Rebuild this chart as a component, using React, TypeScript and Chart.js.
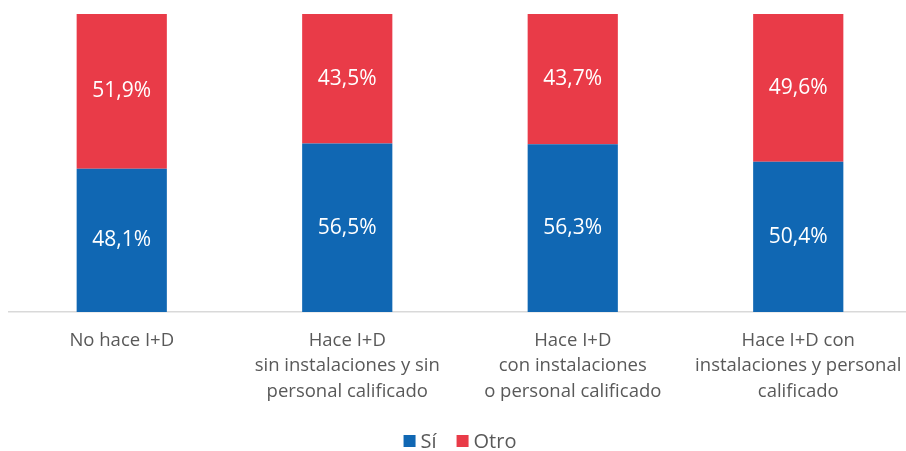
import React, { useEffect, useRef } from "react";
import { Chart, registerables } from "chart.js";

Chart.register(...registerables);

const categories: string[][] = [
  ["No hace I+D"],
  ["Hace I+D", "sin instalaciones y sin", "personal calificado"],
  ["Hace I+D", "con instalaciones", "o personal calificado"],
  ["Hace I+D con", "instalaciones y personal", "calificado"],
];
const siValues = [48.1, 56.5, 56.3, 50.4];
const otroValues = [51.9, 43.5, 43.7, 49.6];
const seriesNames = ["Sí", "Otro"];
const seriesColors = ["#1067b3", "#e93b48"];

const FONT = "'Open Sans', sans-serif";

const dataLabelPlugin = {
  id: "dataLabels",
  afterDatasetsDraw(chart: any) {
    const ctx = chart.ctx;
    ctx.save();
    ctx.fillStyle = "#ffffff";
    ctx.font = `21px ${FONT}`;
    ctx.textAlign = "center";
    ctx.textBaseline = "middle";
    chart.data.datasets.forEach((ds: any, di: number) => {
      const meta = chart.getDatasetMeta(di);
      meta.data.forEach((el: any, i: number) => {
        const v = ds.data[i] as number;
        const y = (el.y + el.base) / 2;
        ctx.fillText(v.toFixed(1).replace(".", ",") + "%", el.x, y);
      });
    });
    ctx.restore();
  },
};

const customLegendPlugin = {
  id: "customLegend",
  afterDraw(chart: any) {
    const ctx = chart.ctx;
    const box = 12;
    const gapText = 5;
    const gapItem = 20;
    ctx.save();
    ctx.font = `20px ${FONT}`;
    ctx.textBaseline = "middle";
    ctx.textAlign = "left";
    const items = chart.data.datasets.map((ds: any) => ({
      text: ds.label as string,
      color: ds.backgroundColor as string,
      w: ctx.measureText(ds.label).width,
    }));
    const total =
      items.reduce((s: number, it: any) => s + box + gapText + it.w, 0) + gapItem * (items.length - 1);
    const cx = (chart.chartArea.left + chart.chartArea.right) / 2;
    let x = cx - total / 2;
    const y = chart.height - 10;
    items.forEach((it: any) => {
      ctx.fillStyle = it.color;
      ctx.fillRect(x, y - box / 2, box, box);
      x += box + gapText;
      ctx.fillStyle = "#595959";
      ctx.fillText(it.text, x, y + 1);
      x += it.w + gapItem;
    });
    ctx.restore();
  },
};

export default function App() {
  const ref = useRef<HTMLCanvasElement>(null);
  useEffect(() => {
    if (!ref.current) return;
    const chart = new Chart(ref.current, {
      type: "bar",
      data: {
        labels: categories,
        datasets: [
          { label: seriesNames[0], data: siValues, backgroundColor: seriesColors[0], categoryPercentage: 0.4, barPercentage: 1 },
          { label: seriesNames[1], data: otroValues, backgroundColor: seriesColors[1], categoryPercentage: 0.4, barPercentage: 1 },
        ],
      },
      options: {
        animation: false,
        responsive: false,
        maintainAspectRatio: false,
        layout: { padding: { left: 9, right: 13, top: 14, bottom: 39 } },
        plugins: {
          legend: { display: false },
          tooltip: { enabled: false },
        },
        scales: {
          x: {
            stacked: true,
            grid: { display: false },
            border: { display: true, color: "#d9d9d9", width: 1.5 },
            ticks: {
              font: { family: FONT, size: 18.5, lineHeight: 1.37 },
              color: "#595959",
              padding: 8,
              maxRotation: 0,
              autoSkip: false,
            },
          },
          y: {
            stacked: true,
            display: false,
            min: 0,
            max: 100,
          },
        },
      },
      plugins: [dataLabelPlugin, customLegendPlugin],
    });
    return () => chart.destroy();
  }, []);
  return (
    <div style={{ position: "fixed", left: 0, top: 0, width: 906, height: 451, overflow: "hidden", background: "#fff" }}>
      <canvas ref={ref} width={924} height={451} style={{ display: "block" }} />
    </div>
  );
}
